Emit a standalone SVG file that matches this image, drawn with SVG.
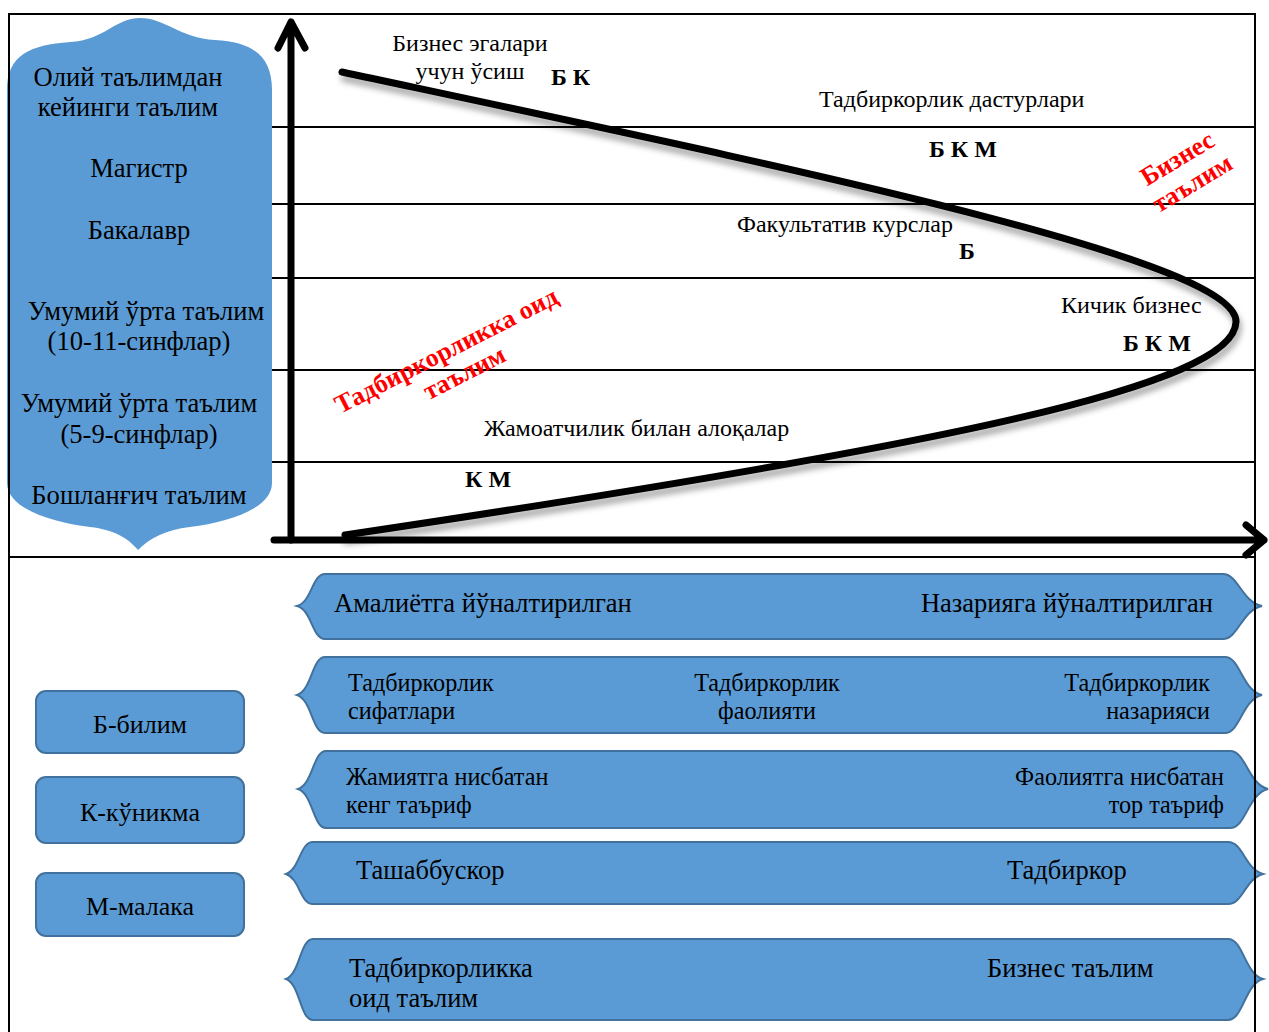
<svg xmlns="http://www.w3.org/2000/svg" width="1269" height="1032" viewBox="0 0 1269 1032">
<defs>
<style>
text{font-family:"Liberation Serif","Times New Roman",serif;fill:#000}
.lt{font-size:26.6px;text-anchor:middle}
.lg{font-size:26px;text-anchor:middle}
.ct{font-size:24px}
.bd{font-size:24px;font-weight:bold}
.red{font-size:26px;font-weight:bold;fill:#FF0000;text-anchor:middle}
.bt{font-size:26.5px}
.bs{font-size:24.2px}
.blue{fill:#5B9BD5;stroke:#41719C;stroke-width:2}
.grid{stroke:#000;stroke-width:2;fill:none}
.axis{stroke:#000;stroke-width:7;fill:none;stroke-linecap:round;stroke-linejoin:round}
</style>
<filter id="sh" x="-10%" y="-10%" width="120%" height="130%">
<feDropShadow dx="2" dy="6" stdDeviation="3" flood-color="#000" flood-opacity="0.35"/>
</filter>
</defs>
<rect width="1269" height="1032" fill="#fff"/>

<g id="levels">
<path fill="#5B9BD5" d="M7,90 C7,55 30,45 70,42 C105,40 115,18 140,18 C165,18 180,38 215,40 C255,42 272,58 272,90 L272,483 C272,508 230,522 190,527 C165,530 150,538 138,550 C128,538 115,530 90,527 C50,522 7,508 7,483 Z"/>
<text class="lt" x="128" y="86">Олий таълимдан</text>
<text class="lt" x="128" y="116">кейинги таълим</text>
<text class="lt" x="139" y="177">Магистр</text>
<text class="lt" x="139" y="239">Бакалавр</text>
<text class="lt" x="146" y="320">Умумий ўрта таълим</text>
<text class="lt" x="139" y="350">(10-11-синфлар)</text>
<text class="lt" x="139" y="412">Умумий ўрта таълим</text>
<text class="lt" x="139" y="443">(5-9-синфлар)</text>
<text class="lt" x="139" y="504">Бошланғич таълим</text>
</g>

<g id="grid">
<line class="grid" x1="272" y1="127" x2="1255" y2="127"/>
<line class="grid" x1="272" y1="204" x2="1255" y2="204"/>
<line class="grid" x1="272" y1="278" x2="1255" y2="278"/>
<line class="grid" x1="272" y1="370" x2="1255" y2="370"/>
<line class="grid" x1="272" y1="462" x2="1255" y2="462"/>
</g>

<g id="connectors">
<path class="axis" d="M291,540 L291,22 M278,48 L291,22 L305,48"/>
<path class="axis" d="M274,540 L1264,540 M1246,525 L1264,540 L1246,555"/>
<path filter="url(#sh)" fill="none" stroke="#000" stroke-width="7" stroke-linecap="round" d="M342,72 C800,170 1238,260 1236,322 C1234,385 950,445 345,535"/>
</g>

<g id="chart-labels">
<text class="ct" x="470" y="51" text-anchor="middle">Бизнес эгалари</text>
<text class="ct" x="470" y="79" text-anchor="middle">учун ўсиш</text>
<text class="bd" x="551" y="85">Б К</text>
<text class="ct" x="819" y="107">Тадбиркорлик дастурлари</text>
<text class="bd" x="929" y="157">Б К М</text>
<text class="ct" x="737" y="232">Факультатив курслар</text>
<text class="bd" x="959" y="259">Б</text>
<text class="ct" x="1061" y="313">Кичик бизнес</text>
<text class="bd" x="1123" y="351">Б К М</text>
<text class="ct" x="484" y="436">Жамоатчилик билан алоқалар</text>
<text class="bd" x="465" y="487">К М</text>
</g>

<g id="red-business" transform="translate(1177,158) rotate(-31)">
<text class="red" x="0" y="9">Бизнес</text>
<text class="red" x="0" y="38">таълим</text>
</g>
<g id="red-entrepreneur" transform="translate(446,350) rotate(-27)">
<text class="red" x="0" y="9">Тадбиркорликка оид</text>
<text class="red" x="6" y="37">таълим</text>
</g>

<g id="legend">
<rect class="blue" x="36" y="691" width="208" height="62" rx="10"/>
<text class="lg" x="140" y="733">Б-билим</text>
<rect class="blue" x="36" y="777" width="208" height="66" rx="10"/>
<text class="lg" x="140" y="821">К-кўникма</text>
<rect class="blue" x="36" y="873" width="208" height="63" rx="10"/>
<text class="lg" x="140" y="915">М-малака</text>
</g>

<g id="banner1">
<path class="blue" d="M325,574 L1223,574 C1238,574 1242,602 1262,606 C1242,610 1238,639 1223,639 L325,639 C312,639 312,610 297,606 C312,602 312,574 325,574 Z"/>
<text class="bt" x="334" y="612">Амалиётга йўналтирилган</text>
<text class="bt" x="1213" y="612" text-anchor="end">Назарияга йўналтирилган</text>
</g>
<g id="banner2">
<path class="blue" d="M325,657 L1225,657 C1240,657 1242,690 1262,695 C1242,700 1240,733 1225,733 L325,733 C312,733 312,700 297,695 C312,690 312,657 325,657 Z"/>
<text class="bs" x="348" y="691">Тадбиркорлик</text>
<text class="bs" x="348" y="719">сифатлари</text>
<text class="bs" x="767" y="691" text-anchor="middle">Тадбиркорлик</text>
<text class="bs" x="767" y="719" text-anchor="middle">фаолияти</text>
<text class="bs" x="1210" y="691" text-anchor="end">Тадбиркорлик</text>
<text class="bs" x="1210" y="719" text-anchor="end">назарияси</text>
</g>
<g id="banner3">
<path class="blue" d="M326,751 L1230,751 C1246,751 1248,784 1268,789 C1248,794 1246,828 1230,828 L326,828 C313,828 313,794 298,789 C313,784 313,751 326,751 Z"/>
<text class="bs" x="346" y="785">Жамиятга нисбатан</text>
<text class="bs" x="346" y="813">кенг таъриф</text>
<text class="bs" x="1224" y="785" text-anchor="end">Фаолиятга нисбатан</text>
<text class="bs" x="1224" y="813" text-anchor="end">тор таъриф</text>
</g>
<g id="banner4">
<path class="blue" d="M313,842 L1228,842 C1243,842 1245,869 1263,874 C1245,879 1243,904 1228,904 L313,904 C300,904 300,879 286,874 C300,869 300,842 313,842 Z"/>
<text class="bt" x="356" y="879">Ташаббускор</text>
<text class="bt" x="1007" y="879">Тадбиркор</text>
</g>
<g id="banner5">
<path class="blue" d="M313,939 L1228,939 C1243,939 1245,974 1263,979 C1245,984 1243,1020 1228,1020 L313,1020 C300,1020 300,984 286,979 C300,974 300,939 313,939 Z"/>
<text class="bt" x="349" y="977">Тадбиркорликка</text>
<text class="bt" x="349" y="1007">оид таълим</text>
<text class="bt" x="987" y="977">Бизнес таълим</text>
</g>

<g id="frame" fill="none" stroke="#000" stroke-width="2">
<path d="M9,1032 L9,14 L1255,14 L1255,1032"/>
<line x1="9" y1="557" x2="1255" y2="557"/>
</g>
</svg>
